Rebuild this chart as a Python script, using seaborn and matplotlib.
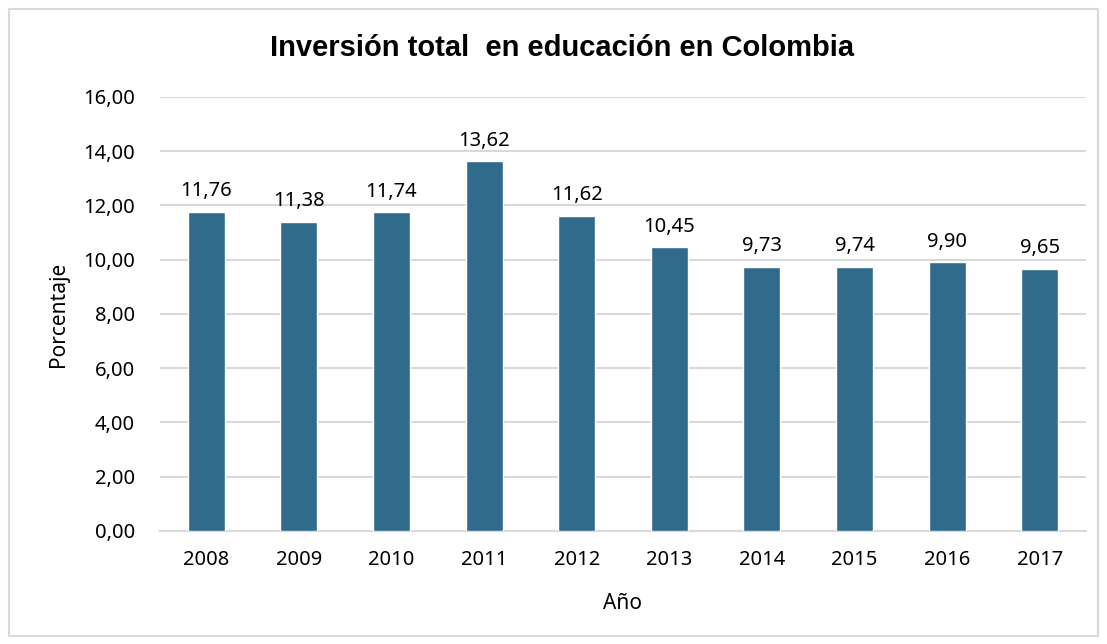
import pandas as pd
import seaborn as sns
import matplotlib.pyplot as plt
from matplotlib.patches import Rectangle

# datos
anios = ["2008", "2009", "2010", "2011", "2012", "2013", "2014", "2015", "2016", "2017"]
porcentaje = [11.76, 11.38, 11.74, 13.62, 11.62, 10.45, 9.73, 9.74, 9.90, 9.65]

df = pd.DataFrame({"Año": anios, "Porcentaje": porcentaje})

sns.set_style('white')
plt.rcParams['font.family'] = ['Noto Sans', 'DejaVu Sans']
plt.rcParams['text.color'] = 'black'
plt.rcParams['axes.labelcolor'] = 'black'
plt.rcParams['xtick.color'] = 'black'
plt.rcParams['ytick.color'] = 'black'

fig = plt.figure(figsize=(11.07, 6.44), dpi=100)
ax = fig.add_axes([0.1445, 0.1755, 0.8365, 0.674])

sns.barplot(data=df, x="Año", y="Porcentaje", color='#306b8b', saturation=1,
            width=0.4, ax=ax, zorder=3)

for i, v in enumerate(porcentaje):
    ax.text(i, v + 0.4, f"{v:.2f}".replace('.', ','), ha='center', va='bottom',
            fontsize=14.5, color='black')

ax.set_ylim(0, 16)
ax.set_xlim(-0.5, 9.5)
ax.set_yticks(range(0, 17, 2))
ax.set_yticklabels([f"{t:.2f}".replace('.', ',') for t in range(0, 17, 2)])
ax.yaxis.grid(True, color='#d9d9d9', linewidth=1.5, zorder=0)
ax.tick_params(axis='both', length=0, labelsize=14.5)
ax.tick_params(axis='y', pad=18)
ax.tick_params(axis='x', pad=14)
for s in ['top', 'right', 'left']:
    ax.spines[s].set_visible(False)
ax.spines['bottom'].set_color('#d9d9d9')
ax.spines['bottom'].set_linewidth(1.5)

ax.set_xlabel("Año", fontsize=15, labelpad=16)
ax.set_ylabel("Porcentaje", fontsize=15, labelpad=10)

fig.text(0.508, 0.925, "Inversión total  en educación en Colombia", ha='center',
         va='center', fontsize=21, fontweight='bold', color='black',
         family=['Liberation Sans', 'DejaVu Sans'])

fig.patches.append(Rectangle((0.008, 0.012), 0.984, 0.974, transform=fig.transFigure,
                             fill=False, edgecolor='#d9d9d9', linewidth=1.5))

plt.savefig('out.png', dpi=100)
